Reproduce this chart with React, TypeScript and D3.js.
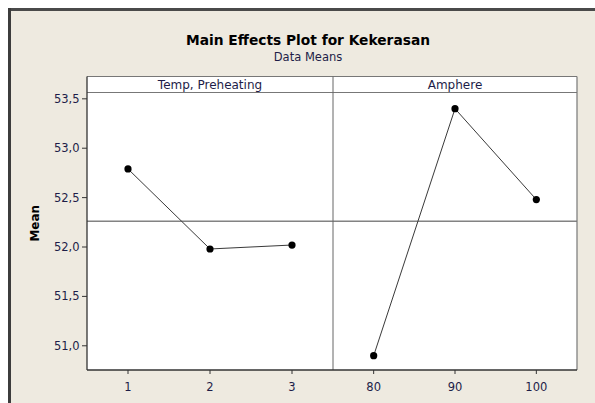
import React from "react";
import * as d3 from "d3";

const panelTitles = ["Temp, Preheating", "Amphere"];
const tempLevels = ["1", "2", "3"];
const tempMeans = [52.79, 51.98, 52.02];
const ampLevels = ["80", "90", "100"];
const ampMeans = [50.9, 53.4, 52.48];
const yTicks = [51.0, 51.5, 52.0, 52.5, 53.0, 53.5];

const W = 595;
const H = 403;
const plotLeft = 87;
const plotRight = 577;
const headerTop = 76.5;
const headerBottom = 92.5;
const plotBottom = 370;
const divX = 333;

const txt = "#1d1d48";
const fontMain = "Tahoma, 'DejaVu Sans', sans-serif";

export default function App() {
  const y = d3.scaleLinear().domain([50.755, 53.564]).range([plotBottom, headerBottom]);
  const allMeans = [...tempMeans, ...ampMeans];
  const grand = d3.mean(allMeans) as number;
  const fmt = (v: number) => d3.format(".1f")(v).replace(".", ",");

  const panels = [
    { title: panelTitles[0], levels: tempLevels, means: tempMeans, x0: plotLeft, x1: divX },
    { title: panelTitles[1], levels: ampLevels, means: ampMeans, x0: divX, x1: plotRight },
  ];

  return (
    <svg width={W} height={H} style={{ display: "block" }}>
      <style>{"body{margin:0}"}</style>
      <rect x={0} y={0} width={W} height={H} fill="#ffffff" />
      <rect x={8} y={8} width={W - 8} height={H - 8} fill="#EEEAE0" />
      <line x1={8} x2={W} y1={9.5} y2={9.5} stroke="#4a4a4a" strokeWidth={3} />
      <line x1={9.5} x2={9.5} y1={8} y2={H} stroke="#3c3c3c" strokeWidth={3} />

      <text x={308} y={45} textAnchor="middle" fontFamily="'DejaVu Sans', sans-serif" fontWeight="bold" fontSize={14}
        textLength={244} lengthAdjust="spacingAndGlyphs" fill="#000">
        Main Effects Plot for Kekerasan
      </text>
      <text x={308} y={61} textAnchor="middle" fontFamily={fontMain} fontSize={11.5} fill={txt}>
        Data Means
      </text>

      <rect x={plotLeft} y={headerTop} width={plotRight - plotLeft} height={plotBottom - headerTop} fill="#ffffff" />

      {panels.map((p, i) => {
        const x = d3.scalePoint<string>().domain(p.levels).range([p.x0, p.x1]).padding(0.5);
        const line = d3
          .line<number>()
          .x((_, j) => x(p.levels[j]) as number)
          .y((d) => y(d));
        return (
          <g key={i}>
            <text x={(p.x0 + p.x1) / 2} y={88.5} textAnchor="middle" fontFamily={fontMain} fontSize={12} fill={txt}>
              {p.title}
            </text>
            <path d={line(p.means) || ""} fill="none" stroke="#222" strokeWidth={0.9} />
            {p.means.map((m, j) => (
              <circle key={j} cx={x(p.levels[j])} cy={y(m)} r={3.6} fill="#000" />
            ))}
            {p.levels.map((l) => (
              <g key={l}>
                <line x1={x(l)} x2={x(l)} y1={plotBottom} y2={plotBottom + 4} stroke="#333" />
                <text x={x(l)} y={391} textAnchor="middle" fontFamily={fontMain} fontSize={11.5} fill={txt}>
                  {l}
                </text>
              </g>
            ))}
          </g>
        );
      })}

      <line x1={plotLeft} x2={plotRight} y1={y(grand)} y2={y(grand)} stroke="#444" strokeWidth={1} />

      {/* frame */}
      <line x1={plotLeft} x2={plotRight} y1={headerTop} y2={headerTop} stroke="#777" strokeWidth={1} />
      <line x1={plotLeft} x2={plotRight} y1={headerBottom} y2={headerBottom} stroke="#777" strokeWidth={1} />
      <line x1={plotRight} x2={plotRight} y1={headerTop} y2={plotBottom} stroke="#777" strokeWidth={1.2} />
      <line x1={divX} x2={divX} y1={headerTop} y2={plotBottom} stroke="#666" strokeWidth={1} />
      <line x1={plotLeft} x2={plotLeft} y1={headerTop} y2={plotBottom} stroke="#333" strokeWidth={1.3} />
      <line x1={plotLeft} x2={plotRight} y1={plotBottom} y2={plotBottom} stroke="#333" strokeWidth={1.3} />

      {yTicks.map((t) => (
        <g key={t}>
          <line x1={plotLeft - 5} x2={plotLeft} y1={y(t)} y2={y(t)} stroke="#333" />
          <text x={79.5} y={y(t) + 4} textAnchor="end" fontFamily={fontMain} fontSize={11.5} fill={txt}>
            {fmt(t)}
          </text>
        </g>
      ))}

      <text
        transform={`translate(39, ${(headerTop + plotBottom) / 2}) rotate(-90)`}
        textAnchor="middle"
        fontFamily={fontMain}
        fontWeight="bold"
        fontSize={12}
        fill="#000"
      >
        Mean
      </text>
    </svg>
  );
}
